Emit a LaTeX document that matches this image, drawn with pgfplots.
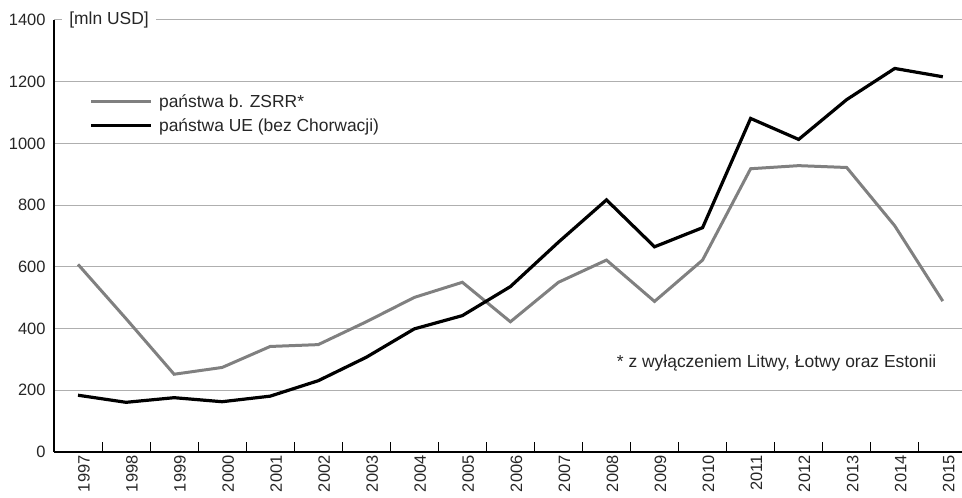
\documentclass[border=0pt]{standalone}
\usepackage{fontspec}
\setmainfont{Liberation Sans}
\usepackage{pgfplots}
\pgfplotsset{compat=1.18}
\definecolor{gridgray}{RGB}{175,175,175}
\definecolor{linegray}{RGB}{128,128,128}
\begin{document}
\begin{tikzpicture}
\begin{axis}[
  name=ax,
  scale only axis,
  width=908bp, height=432bp,
  xmin=1996.5, xmax=2015.4,
  ymin=0, ymax=1400,
  axis lines=left,
  axis line style={-, black, line width=1.2bp},
  xtick={1997,...,2015},
  minor xtick={1997.5,1998.5,...,2014.5},
  ytick={0,200,...,1400},
  major tick length=0pt,
  minor tick length=10bp,
  tick align=inside,
  minor tick style={black, line width=1bp},
  ymajorgrids,
  grid style={gridgray, line width=1bp},
  /pgf/number format/assume math mode=true,
  /pgf/number format/1000 sep={},
  tick label style={font=\fontsize{16.5}{19}\selectfont, text=black!85},
  xticklabel style={rotate=90, anchor=east, yshift=-6bp},
  yticklabel style={xshift=-5bp},
  legend style={draw=none, fill=none, at={(axis description cs:0.036,0.838)}, anchor=north west,
    font=\fontsize{17.5}{20}\selectfont, row sep=6bp, text=black!85},
  legend cell align=left,
  legend image code/.code={\draw[#1] (0bp,0bp) -- (60bp,0bp); \path (64bp,0bp);},
  clip=false,
]
\addplot[linegray, line width=3bp] coordinates {
(1997,608) (1998,432) (1999,252) (2000,274) (2001,342) (2002,348) (2003,422) (2004,501) (2005,550) (2006,422) (2007,550) (2008,622) (2009,488) (2010,622) (2011,918) (2012,928) (2013,922) (2014,733) (2015,489)};
\addlegendentry{państwa b. ZSRR*}
\addplot[black, line width=3.2bp] coordinates {
(1997,184) (1998,161) (1999,176) (2000,163) (2001,181) (2002,231) (2003,307) (2004,399) (2005,442) (2006,536) (2007,680) (2008,817) (2009,665) (2010,727) (2011,1081) (2012,1013) (2013,1142) (2014,1243) (2015,1216)};
\addlegendentry{państwa UE (bez Chorwacji)}
\node[anchor=west, fill=white, inner xsep=7bp, inner ysep=2bp, font=\fontsize{17.5}{20}\selectfont, text=black!85] at (axis cs:1996.67,1400) {[mln USD]};
\node[anchor=east, font=\fontsize{17.5}{20}\selectfont, text=black!85] at (axis cs:2014.94,290) {* z wyłączeniem Litwy, Łotwy oraz Estonii};
\end{axis}
\pgfresetboundingbox
\path[use as bounding box] ([xshift=-54bp,yshift=-46bp]ax.south west) rectangle ([yshift=20bp]ax.north east);
\end{tikzpicture}
\end{document}
